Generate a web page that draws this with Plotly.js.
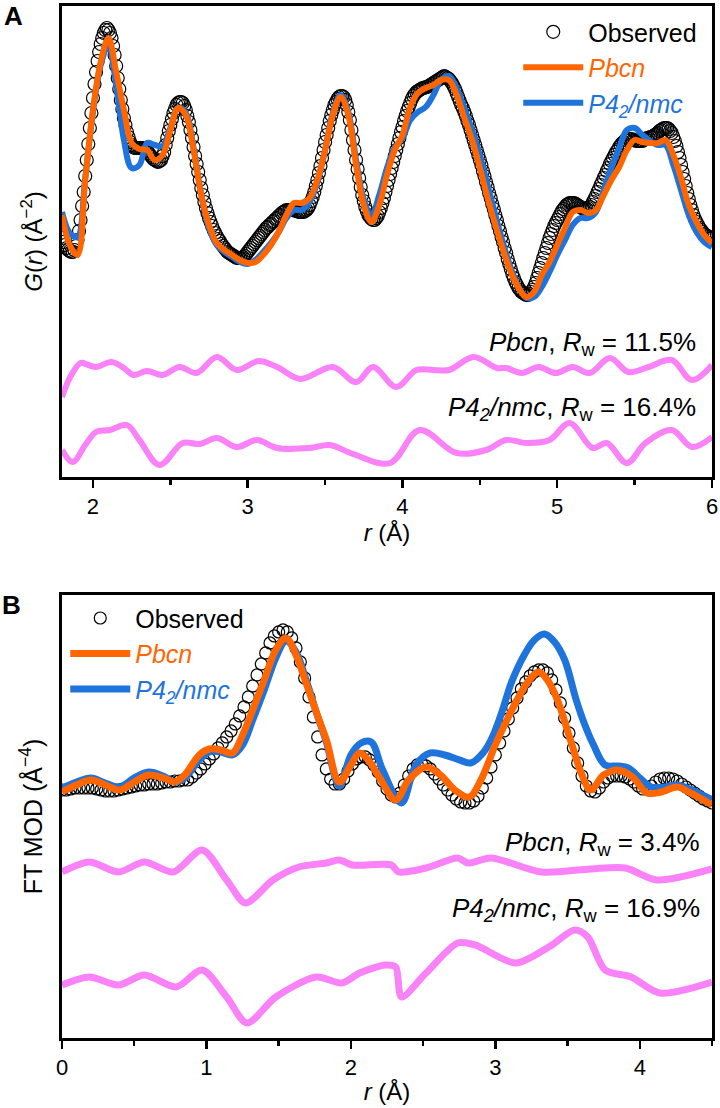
<!DOCTYPE html>
<html>
<head>
<meta charset="utf-8">
<script src="https://cdn.plot.ly/plotly-3.0.1.min.js"></script>
<style>body{margin:0;background:#fff}</style>
</head>
<body>
<div id="graph" style="width:720px;height:1108px"></div>
<script>
// ---- panel A : G(r), r from 1.8 to 6 A ----
// observed PDF, read every 0.01 A starting at 1.80
var obsGA = [
  23.9,23.5,23.2,22.9,22.7,22.6,22.5,22.5,22.7,23.1,23.7,24.6,25.7,27.1,28.5,30.1,31.7,33.3,34.9,36.4,
  37.9,39.3,40.5,41.6,42.5,43.3,43.9,44.4,44.7,44.9,44.7,44.4,43.9,43.1,42.2,41.1,39.9,38.8,37.7,36.8,
  35.9,35.2,34.5,34.0,33.5,33.2,33.0,32.9,32.9,32.9,32.9,32.9,32.9,32.8,32.7,32.6,32.4,32.2,32.0,31.8,
  31.7,31.6,31.5,31.6,31.7,32.1,32.5,33.2,33.9,34.6,35.2,35.8,36.4,36.8,37.2,37.4,37.5,37.5,37.4,37.1,
  36.7,36.1,35.5,34.7,33.9,33.0,32.1,31.3,30.5,29.7,28.9,28.2,27.5,26.9,26.4,25.9,25.5,25.1,24.7,24.4,
  24.1,23.8,23.6,23.3,23.1,22.9,22.7,22.5,22.4,22.3,22.2,22.1,22.0,21.9,21.9,21.9,21.9,22.0,22.1,22.3,
  22.5,22.7,22.9,23.1,23.3,23.5,23.7,23.9,24.1,24.3,24.5,24.7,24.9,25.0,25.2,25.3,25.5,25.6,25.8,25.9,
  26.1,26.2,26.4,26.5,26.6,26.7,26.7,26.7,26.7,26.7,26.7,26.6,26.6,26.5,26.5,26.5,26.5,26.6,26.7,26.9,
  27.2,27.6,28.0,28.5,29.1,29.7,30.4,31.1,31.9,32.7,33.5,34.2,34.9,35.6,36.2,36.7,37.2,37.5,37.8,38.0,
  38.1,38.1,38.0,37.7,37.2,36.5,35.7,34.7,33.7,32.7,31.7,30.8,29.9,29.0,28.2,27.6,27.0,26.6,26.2,26.0,
  25.8,25.7,25.7,25.9,26.1,26.5,26.9,27.4,27.9,28.5,29.1,29.7,30.3,30.9,31.5,32.1,32.7,33.3,33.9,34.5,
  35.0,35.6,36.1,36.6,37.0,37.4,37.8,38.1,38.3,38.5,38.6,38.7,38.8,38.9,38.9,39.0,39.0,39.1,39.2,39.3,
  39.4,39.5,39.6,39.7,39.8,39.9,40.0,40.1,40.0,39.9,39.8,39.6,39.4,39.1,38.8,38.4,38.0,37.6,37.2,36.9,
  36.5,36.1,35.6,35.2,34.7,34.2,33.7,33.2,32.7,32.2,31.7,31.2,30.6,30.1,29.5,29.0,28.4,27.9,27.3,26.8,
  26.2,25.7,25.1,24.6,24.0,23.5,22.9,22.4,21.8,21.3,20.8,20.3,19.9,19.5,19.2,18.9,18.7,18.5,18.4,18.3,
  18.2,18.2,18.3,18.5,18.7,19.0,19.4,19.9,20.4,20.9,21.4,21.9,22.4,22.9,23.4,23.9,24.3,24.7,25.1,25.4,
  25.7,26.0,26.3,26.6,26.8,27.0,27.2,27.3,27.4,27.4,27.4,27.4,27.3,27.2,27.1,27.0,26.9,26.8,26.8,26.8,
  26.9,27.0,27.2,27.5,27.8,28.1,28.5,28.8,29.2,29.5,29.9,30.2,30.6,30.9,31.3,31.6,31.9,32.2,32.5,32.7,
  33.0,33.2,33.4,33.5,33.7,33.7,33.8,33.8,33.8,33.7,33.7,33.6,33.6,33.6,33.6,33.6,33.7,33.8,33.9,33.9,
  34.0,34.0,34.1,34.2,34.3,34.4,34.6,34.7,34.8,34.9,34.9,34.9,34.8,34.6,34.4,34.0,33.6,33.1,32.5,31.9,
  31.2,30.5,29.8,29.1,28.4,27.8,27.2,26.7,26.2,25.8,25.5,25.2,24.9,24.7,24.5,24.3,24.2,24.1,24.0,23.9,
  23.9
];
// fitted curves, every 0.05 A starting at 1.80
var pbcnGA = [
  26.2, 23.2, 22.2, 29.7, 36.7, 41.5, 43.9, 40.5, 36.7, 33.4,
  32.8, 32.7, 31.7, 32.2, 34.7, 36.9, 36.2, 32.7, 28.2, 25.2,
  23.4, 22.7, 22.2, 21.7, 21.4, 21.5, 22.2, 23.2, 24.5, 26.2,
  27.4, 27.4, 27.9, 29.7, 32.7, 36.2, 38.0, 36.2, 31.2, 27.2,
  25.5, 27.2, 30.2, 32.7, 34.2, 37.0, 38.4, 38.9, 39.2, 39.7,
  39.7, 38.2, 35.9, 33.7, 30.9, 27.9, 25.2, 22.7, 20.5, 18.9,
  18.0, 18.5, 20.2, 21.5, 23.2, 24.9, 26.5, 26.7, 26.4, 26.7,
  28.2, 29.7, 31.0, 32.7, 33.7, 33.5, 33.4, 33.4, 33.7, 32.2,
  29.9, 27.2, 25.5, 24.2, 23.4
];
var p42GA = [
  26.5, 24.4, 24.0, 29.9, 36.5, 41.2, 43.2, 39.2, 33.7, 30.9,
  31.2, 33.4, 33.2, 33.1, 34.9, 36.9, 36.4, 32.9, 28.2, 24.9,
  23.2, 22.5, 22.0, 21.5, 21.3, 21.7, 22.5, 23.4, 24.5, 25.9,
  26.7, 26.7, 27.5, 29.5, 32.7, 36.4, 38.2, 36.5, 31.7, 27.7,
  26.2, 28.2, 30.9, 32.9, 33.9, 35.7, 36.5, 37.0, 38.2, 39.7,
  40.1, 38.9, 36.9, 34.7, 32.2, 29.2, 26.2, 23.4, 20.9, 19.0,
  17.9, 18.0, 19.0, 20.5, 22.2, 23.7, 25.2, 25.9, 25.9, 26.5,
  28.7, 30.9, 32.9, 34.7, 34.9, 34.2, 33.6, 33.2, 33.2, 31.2,
  28.7, 26.2, 24.5, 23.5, 23.0
];
// difference curves (offset)
var rDiffPbcnA = [1.80,1.85,1.92,1.97,2.02,2.12,2.20,2.26,2.35,2.45,2.56,2.67,2.80,2.93,3.07,3.19,3.34,3.55,3.70,3.81,
                  3.96,4.09,4.20,4.30,4.46,4.61,4.67,4.77,4.88,4.99,5.10,5.21,5.34,5.46,5.59,5.74,5.87,6.00];
var diffPbcnA = [8.0,9.9,11.4,11.2,11.0,11.5,10.9,10.2,10.6,10.2,11.0,10.4,12.0,10.7,11.6,11.0,9.8,11.0,9.5,11.0,
                 9.0,10.7,10.7,10.7,12.0,10.9,10.9,10.4,11.0,10.4,11.0,10.4,11.9,10.5,11.0,11.7,9.7,11.2];
var rDiffP42A = [1.80,1.87,1.95,2.02,2.11,2.22,2.30,2.43,2.58,2.69,2.80,2.93,3.06,3.19,3.40,3.53,3.68,3.92,4.11,4.35,
                 4.54,4.67,4.80,4.95,5.08,5.23,5.32,5.45,5.57,5.74,5.87,6.00];
var diffP42A = [2.7,1.5,3.2,4.5,4.7,5.2,3.7,1.2,3.4,3.3,3.9,3.0,3.7,2.9,2.9,3.2,2.3,1.4,4.7,2.4,
                2.7,3.7,3.4,3.7,5.4,2.9,3.4,1.4,3.4,4.7,3.0,4.0];

// ---- panel B : FT MOD, r from 0 to 4.5 A ----
// observed, read every 0.03 A starting at 0
var obsFB = [
  24.8, 24.8, 24.9, 25.0, 25.0, 25.0, 25.0, 25.0, 24.9, 24.8,
  24.7, 24.7, 24.7, 24.8, 24.9, 25.0, 25.1, 25.2, 25.3, 25.3,
  25.4, 25.4, 25.4, 25.5, 25.6, 25.6, 25.7, 25.7, 25.8, 25.8,
  26.1, 26.5, 26.9, 27.4, 27.9, 28.4, 29.0, 29.5, 30.1, 30.7,
  31.4, 32.2, 33.1, 34.1, 35.2, 36.3, 37.4, 38.5, 39.5, 40.2,
  40.6, 40.8, 40.6, 40.0, 39.0, 37.6, 36.0, 34.1, 32.1, 30.1,
  28.3, 26.9, 25.9, 25.4, 25.4, 25.9, 26.7, 27.4, 27.9, 28.1,
  28.1, 27.8, 27.3, 26.6, 25.7, 24.9, 24.3, 24.1, 24.5, 25.3,
  26.2, 26.9, 27.3, 27.4, 27.2, 26.9, 26.4, 25.9, 25.3, 24.8,
  24.3, 23.9, 23.6, 23.5, 23.5, 23.7, 24.2, 25.0, 26.0, 27.1,
  28.3, 29.5, 30.7, 31.9, 33.0, 34.0, 34.9, 35.6, 36.2, 36.6,
  36.8, 36.8, 36.5, 35.8, 34.8, 33.5, 32.0, 30.5, 29.0, 27.5,
  26.2, 25.2, 24.7, 24.6, 25.0, 25.6, 26.0, 26.2, 26.2, 26.2,
  26.1, 25.9, 25.6, 25.2, 24.9, 24.9, 25.2, 25.6, 25.9, 26.0,
  26.0, 25.9, 25.7, 25.4, 25.1, 24.8, 24.5, 24.2, 23.9, 23.7,
  23.5
];
var rPbcnB = [0.00,0.10,0.20,0.30,0.40,0.50,0.60,0.70,0.78,0.85,0.95,1.02,1.10,1.18,1.25,1.32,1.40,1.48,1.55,1.62,
              1.69,1.76,1.83,1.92,2.00,2.06,2.12,2.20,2.31,2.40,2.52,2.62,2.72,2.82,2.90,3.00,3.07,3.15,3.22,3.30,
              3.36,3.43,3.52,3.60,3.66,3.75,3.85,3.95,4.05,4.15,4.26,4.35,4.50];
var pbcnFB = [24.6,25.3,25.8,25.3,24.8,25.6,26.3,26.0,25.6,26.3,28.3,28.9,28.8,28.5,30.3,32.8,35.8,38.8,40.0,38.3,
              35.5,32.6,29.8,25.6,27.3,28.5,27.8,26.0,23.8,25.8,27.1,26.3,24.8,24.1,25.8,29.3,31.5,33.8,35.5,36.6,
              35.8,33.8,29.8,26.3,24.8,26.3,26.8,26.1,24.5,24.6,25.1,24.5,23.3];
var rP42B = [0.00,0.10,0.20,0.30,0.40,0.50,0.60,0.70,0.78,0.85,0.95,1.02,1.10,1.18,1.25,1.32,1.40,1.48,1.55,1.62,
             1.69,1.76,1.83,1.92,2.00,2.07,2.14,2.22,2.35,2.45,2.55,2.65,2.75,2.83,2.92,2.98,3.05,3.11,3.20,3.27,
             3.34,3.41,3.48,3.56,3.62,3.68,3.76,3.85,3.92,4.00,4.08,4.17,4.26,4.36,4.50];
var p42FB = [25.0,25.6,26.0,25.5,25.1,26.0,26.6,26.2,25.6,26.0,27.8,28.6,28.6,28.3,29.3,31.8,34.8,38.0,39.7,38.6,
             35.8,32.6,29.6,25.2,28.3,29.5,29.6,26.8,23.5,27.3,28.5,28.3,27.8,27.5,28.6,30.1,32.8,35.5,38.3,39.8,
             40.4,39.6,37.8,33.8,31.3,29.3,27.3,27.2,27.0,26.0,25.1,25.1,25.3,24.8,23.8];
var rDiffPbcnB = [0.00,0.19,0.39,0.57,0.77,0.97,1.14,1.27,1.46,1.64,1.83,1.92,2.01,2.28,2.33,2.52,2.74,2.81,2.97,3.32,
                  3.66,3.90,4.12,4.50];
var diffPbcnB = [16.6,17.6,16.6,17.6,16.6,18.8,15.8,13.5,15.8,17.1,17.5,17.8,17.3,17.3,16.6,17.0,18.0,17.5,18.0,16.6,
                 16.9,17.0,15.8,16.9];
var rDiffP42B = [0.00,0.19,0.39,0.57,0.79,0.97,1.14,1.28,1.48,1.76,1.94,2.06,2.24,2.31,2.35,2.52,2.74,2.86,3.14,3.37,
                 3.55,3.64,3.76,3.94,4.14,4.50];
var diffP42B = [5.3,6.1,5.3,6.3,5.1,6.8,4.1,1.5,4.1,6.1,5.5,6.5,7.3,7.1,4.1,6.5,9.5,9.3,7.5,9.1,
                10.8,10.1,6.8,6.1,4.5,5.6];

var ORANGE = '#ff6600', BLUE = '#1e73dc', PINK = '#fa82f8';
var FONT = 'Arial, "Liberation Sans", sans-serif';

function drawGraph() {
    var data = [
        // panel A
        {x0: 1.8, dx: 0.01, y: obsGA, type: 'scatter', mode: 'markers', name: 'Observed',
         marker: {symbol: 'circle-open', size: 13, color: 'black', line: {width: 1.2}},
         xaxis: 'x', yaxis: 'y', legend: 'legend', legendrank: 1},
        {x0: 1.8, dx: 0.05, y: p42GA, type: 'scatter', mode: 'lines',
         name: '<span style="color:' + BLUE + '"><i>P4<sub>2</sub>/nmc</i></span>',
         line: {color: BLUE, width: 6, shape: 'spline', smoothing: 1},
         xaxis: 'x', yaxis: 'y', legend: 'legend', legendrank: 3},
        {x0: 1.8, dx: 0.05, y: pbcnGA, type: 'scatter', mode: 'lines',
         name: '<span style="color:' + ORANGE + '"><i>Pbcn</i></span>',
         line: {color: ORANGE, width: 6, shape: 'spline', smoothing: 1},
         xaxis: 'x', yaxis: 'y', legend: 'legend', legendrank: 2},
        {x: rDiffPbcnA, y: diffPbcnA, type: 'scatter', mode: 'lines', showlegend: false,
         line: {color: PINK, width: 6, shape: 'spline', smoothing: 1}, xaxis: 'x', yaxis: 'y'},
        {x: rDiffP42A, y: diffP42A, type: 'scatter', mode: 'lines', showlegend: false,
         line: {color: PINK, width: 6, shape: 'spline', smoothing: 1}, xaxis: 'x', yaxis: 'y'},
        // panel B
        {x0: 0, dx: 0.03, y: obsFB, type: 'scatter', mode: 'markers', name: 'Observed',
         marker: {symbol: 'circle-open', size: 12, color: 'black', line: {width: 1.2}},
         xaxis: 'x2', yaxis: 'y2', legend: 'legend2', legendrank: 1},
        {x: rP42B, y: p42FB, type: 'scatter', mode: 'lines',
         name: '<span style="color:' + BLUE + '"><i>P4<sub>2</sub>/nmc</i></span>',
         line: {color: BLUE, width: 7, shape: 'spline', smoothing: 1},
         xaxis: 'x2', yaxis: 'y2', legend: 'legend2', legendrank: 3},
        {x: rPbcnB, y: pbcnFB, type: 'scatter', mode: 'lines',
         name: '<span style="color:' + ORANGE + '"><i>Pbcn</i></span>',
         line: {color: ORANGE, width: 7, shape: 'spline', smoothing: 1},
         xaxis: 'x2', yaxis: 'y2', legend: 'legend2', legendrank: 2},
        {x: rDiffPbcnB, y: diffPbcnB, type: 'scatter', mode: 'lines', showlegend: false,
         line: {color: PINK, width: 7, shape: 'spline', smoothing: 0.8}, xaxis: 'x2', yaxis: 'y2'},
        {x: rDiffP42B, y: diffP42B, type: 'scatter', mode: 'lines', showlegend: false,
         line: {color: PINK, width: 7, shape: 'spline', smoothing: 0.8}, xaxis: 'x2', yaxis: 'y2'}
    ];

    var xBase = {
        showline: true, mirror: true, linewidth: 3, linecolor: 'black',
        showgrid: false, zeroline: false,
        ticks: 'outside', ticklen: 8, tickwidth: 2.5, tickcolor: 'black', dtick: 1, tick0: 0,
        minor: {ticks: 'outside', dtick: 0.5, ticklen: 5, tickwidth: 2.5, tickcolor: 'black'},
        tickfont: {size: 22, color: 'black'},
        title: {text: '<i>r</i> (Å)', font: {size: 24, color: 'black'}, standoff: 4}
    };
    var yBase = {
        showline: true, mirror: true, linewidth: 3, linecolor: 'black',
        showgrid: false, zeroline: false, ticks: '', showticklabels: false
    };

    var layout = {
        width: 720, height: 1108,
        margin: {l: 62, r: 8, t: 6, b: 70},
        paper_bgcolor: 'white', plot_bgcolor: 'white',
        font: {family: FONT, color: 'black'},
        xaxis: Object.assign({}, xBase, {range: [1.8, 6], anchor: 'y'}),
        yaxis: Object.assign({}, yBase, {range: [0, 47.1], domain: [0.5436, 1], anchor: 'x',
            title: {text: '<i>G</i>(<i>r</i>) (Å<sup>−2</sup>)', font: {size: 24}, standoff: 10}}),
        xaxis2: Object.assign({}, xBase, {range: [0, 4.5], anchor: 'y2'}),
        yaxis2: Object.assign({}, yBase, {range: [0, 44.3], domain: [0, 0.4293], anchor: 'x2',
            title: {text: 'FT MOD (Å<sup>−4</sup>)', font: {size: 25}, standoff: 10}}),
        legend: {x: 0.985, xanchor: 'right', y: 0.997, yanchor: 'top', bgcolor: 'rgba(0,0,0,0)',
                 font: {size: 25, color: 'black'}, itemwidth: 60, tracegroupgap: 0},
        legend2: {x: 0.005, xanchor: 'left', y: 0.429, yanchor: 'top', bgcolor: 'rgba(0,0,0,0)',
                  font: {size: 25, color: 'black'}, itemwidth: 60, tracegroupgap: 0},
        annotations: [
            {xref: 'paper', yref: 'paper', x: -0.075, y: 0.99, xanchor: 'center', yanchor: 'middle',
             text: '<b>A</b>', showarrow: false, font: {size: 26}},
            {xref: 'paper', yref: 'paper', x: -0.077, y: 0.4196, xanchor: 'center', yanchor: 'middle',
             text: '<b>B</b>', showarrow: false, font: {size: 26}},
            {xref: 'x domain', yref: 'y domain', x: 0.978, y: 0.2845, xanchor: 'right', yanchor: 'middle',
             text: '<i>Pbcn</i>, <i>R</i><sub>w</sub> = 11.5%', showarrow: false, font: {size: 26}},
            {xref: 'x domain', yref: 'y domain', x: 0.978, y: 0.1465, xanchor: 'right', yanchor: 'middle',
             text: '<i>P4<sub>2</sub>/nmc</i>, <i>R</i><sub>w</sub> = 16.4%', showarrow: false, font: {size: 26}},
            {xref: 'x2 domain', yref: 'y2 domain', x: 0.985, y: 0.44, xanchor: 'right', yanchor: 'middle',
             text: '<i>Pbcn</i>, <i>R</i><sub>w</sub> = 3.4%', showarrow: false, font: {size: 26}},
            {xref: 'x2 domain', yref: 'y2 domain', x: 0.985, y: 0.289, xanchor: 'right', yanchor: 'middle',
             text: '<i>P4<sub>2</sub>/nmc</i>, <i>R</i><sub>w</sub> = 16.9%', showarrow: false, font: {size: 26}}
        ]
    };

    Plotly.newPlot('graph', data, layout, {displayModeBar: false, staticPlot: true});
}

drawGraph();
</script>
</body>
</html>
